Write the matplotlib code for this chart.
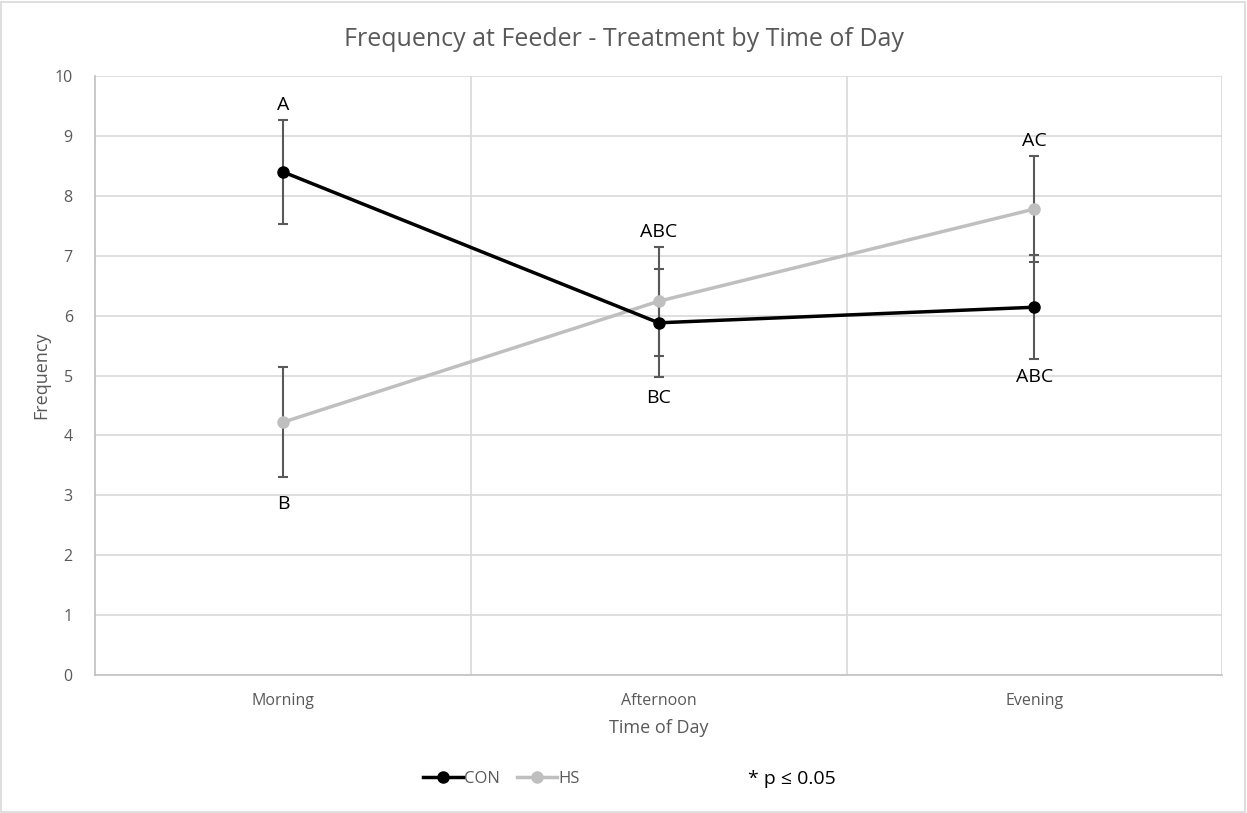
import matplotlib
matplotlib.use("Agg")
import matplotlib.pyplot as plt
from matplotlib.lines import Line2D
from matplotlib.patches import Rectangle

plt.rcParams['font.family'] = ['Open Sans', 'DejaVu Sans']

# Dados
periodos = ["Morning", "Afternoon", "Evening"]
con_media = [8.40, 5.88, 6.14]
con_erro = [0.87, 0.90, 0.87]
hs_media = [4.22, 6.24, 7.78]
hs_erro = [0.92, 0.91, 0.88]

# Letras de significância (texto, posição y)
letras_con = ["A", "BC", "ABC"]
letras_con_y = [9.52, 4.62, 4.98]
letras_hs = ["B", "ABC", "AC"]
letras_hs_y = [2.86, 7.4, 8.92]

cinza_texto = "#595959"
cor_grade = "#d9d9d9"

fig = plt.figure(figsize=(12.47, 8.13), dpi=100)
fig.patches.append(Rectangle((0.001, 0.001), 0.997, 0.997, transform=fig.transFigure,
                             fill=False, edgecolor="#d9d9d9", linewidth=1.2))
ax = fig.add_axes([0.0762, 0.1697, 0.9040, 0.7368])

x = list(range(len(periodos)))

# Grade
for yv in range(1, 11):
    ax.axhline(yv, color=cor_grade, linewidth=1.2, zorder=0)
for xv in [0.5, 1.5, 2.5]:
    ax.axvline(xv, color=cor_grade, linewidth=1.2, zorder=0)

# Séries
ax.errorbar(x, con_media, yerr=con_erro, fmt="none", ecolor=cinza_texto,
            elinewidth=1.5, capsize=3.5, capthick=1.5, zorder=2)
ax.errorbar(x, hs_media, yerr=hs_erro, fmt="none", ecolor=cinza_texto,
            elinewidth=1.5, capsize=3.5, capthick=1.5, zorder=2)
ax.plot(x, hs_media, color="#bfbfbf", linewidth=2.5, marker="o", markersize=8, zorder=3)
ax.plot(x, con_media, color="black", linewidth=2.5, marker="o", markersize=8, zorder=4)

for i in x:
    ax.text(i, letras_con_y[i], letras_con[i], ha="center", va="center", fontsize=14, color="black")
    ax.text(i, letras_hs_y[i], letras_hs[i], ha="center", va="center", fontsize=14, color="black")

ax.set_xlim(-0.5, 2.5)
ax.set_ylim(0, 10)
ax.set_yticks(range(0, 11))
ax.set_xticks(x)
ax.set_xticklabels(periodos)
ax.tick_params(axis="both", length=0, colors=cinza_texto, labelsize=11.5)
ax.tick_params(axis="x", pad=13)
ax.tick_params(axis="y", pad=16)

for lado in ["top", "right"]:
    ax.spines[lado].set_visible(False)
ax.spines["left"].set_color("#bfbfbf")
ax.spines["bottom"].set_color("#bfbfbf")
ax.spines["left"].set_linewidth(1.2)
ax.spines["bottom"].set_linewidth(1.2)

ax.set_xlabel("Time of Day", fontsize=13, color=cinza_texto, labelpad=7)
ax.set_ylabel("Frequency", fontsize=13, color=cinza_texto, labelpad=3)
fig.text(0.5, 0.952, "Frequency at Feeder - Treatment by Time of Day", ha="center", va="center",
         fontsize=18, color=cinza_texto)

# Legenda
handles = [Line2D([0], [0], color="black", linewidth=2.5, marker="o", markersize=8),
           Line2D([0], [0], color="#bfbfbf", linewidth=2.5, marker="o", markersize=8)]
fig.legend(handles, ["CON", "HS"], loc="center", bbox_to_anchor=(0.402, 0.042), ncol=2,
           frameon=False, fontsize=12, labelcolor=cinza_texto, handlelength=2.4,
           handletextpad=0.1, columnspacing=1.0)
fig.text(0.6, 0.042, "* p \u2264 0.05", ha="left", va="center", fontsize=14, color="black")

fig.savefig("out.png", dpi=100)
